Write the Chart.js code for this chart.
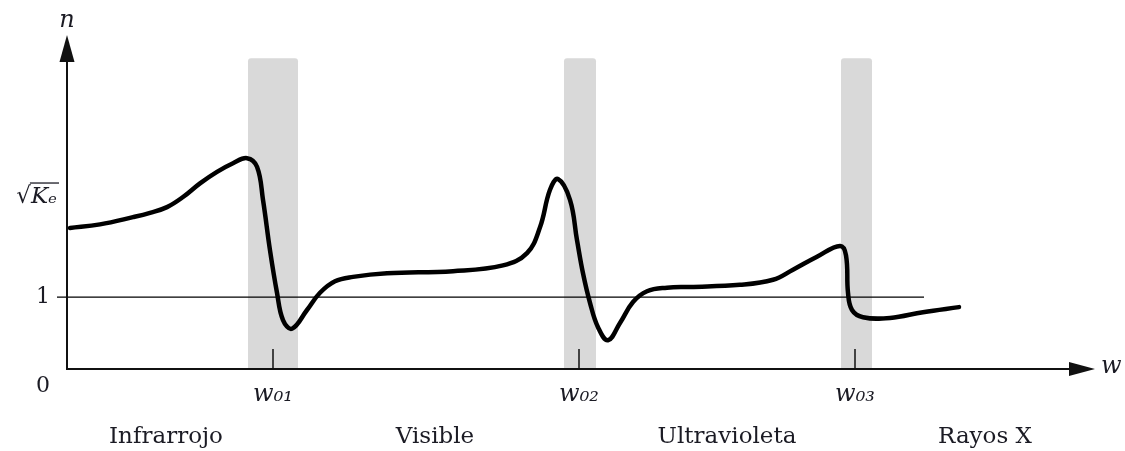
<!DOCTYPE html>
<html><head><meta charset="utf-8">
<script src="https://cdn.jsdelivr.net/npm/chart.js@4.4.1/dist/chart.umd.min.js"></script>
<style>html,body{margin:0;padding:0;background:#fff;}canvas{display:block}</style>
</head><body>
<canvas id="c" width="1125" height="451"></canvas>
<script>
// Dispersion curve: refractive index n versus frequency w (arbitrary units)
const curveX = [3, 33, 66, 83, 100, 116, 133, 150, 166, 180, 190, 196, 203, 210, 216, 225, 240, 253, 268, 286, 320, 386, 436, 460, 473, 483, 491, 503, 510, 516, 523, 531, 541, 553, 566, 580, 600, 623, 673, 706, 726, 750, 773, 779, 781, 785, 796, 823, 856, 892];
const curveN = [1.96, 2.01, 2.11, 2.17, 2.25, 2.39, 2.58, 2.74, 2.86, 2.93, 2.81, 2.35, 1.65, 1.06, 0.68, 0.56, 0.82, 1.06, 1.22, 1.28, 1.33, 1.36, 1.44, 1.61, 1.97, 2.49, 2.64, 2.35, 1.79, 1.33, 0.92, 0.58, 0.40, 0.64, 0.93, 1.08, 1.13, 1.14, 1.17, 1.24, 1.38, 1.56, 1.71, 1.58, 1.06, 0.82, 0.72, 0.71, 0.79, 0.86];
// n = 1 reference line
const refLineX = [-10, 857];
const refLineN = [1, 1];
// absorption bands
const bandStart = [181, 497, 774];
const bandEnd = [231, 529, 805];
const bandTop = 4.32;
// resonance frequencies
const resonanceX = [206, 512, 788];
const resonanceLabels = ['w₀₁', 'w₀₂', 'w₀₃'];
// n-axis ticks
const nTicks = [0, 1, 2.39];
const nTickLabels = [['', '0 '], '1 ', '√Kₑ'];
// spectral regions
const regionX = [99, 368, 660, 918];
const regionLabels = ['Infrarrojo', 'Visible', 'Ultravioleta', 'Rayos X'];

const INK = '#1b1b24';
const SERIF = "'DejaVu Serif', 'Liberation Serif', serif";

const diagram = {
  id: 'diagram',
  beforeDatasetsDraw(chart) {
    const {ctx, scales: {x, y}} = chart;
    ctx.save();
    ctx.fillStyle = '#d9d9d9';
    for (let i = 0; i < bandStart.length; i++) {
      const l = x.getPixelForValue(bandStart[i]);
      const r = x.getPixelForValue(bandEnd[i]);
      const t = y.getPixelForValue(bandTop);
      const b = y.getPixelForValue(0);
      ctx.beginPath();
      if (ctx.roundRect) ctx.roundRect(l, t, r - l, b - t, [3, 3, 0, 0]); else ctx.rect(l, t, r - l, b - t);
      ctx.fill();
    }
    ctx.restore();
  },
  afterDatasetsDraw(chart) {
    const {ctx, scales: {x, y}, chartArea} = chart;
    const x0 = x.getPixelForValue(0), y0 = y.getPixelForValue(0);
    ctx.save();
    ctx.strokeStyle = '#111';
    ctx.fillStyle = '#111';
    ctx.lineWidth = 2;
    // y axis
    ctx.beginPath(); ctx.moveTo(x0, y0 + 1); ctx.lineTo(x0, chartArea.top + 20); ctx.stroke();
    ctx.beginPath(); ctx.moveTo(x0, chartArea.top - 3); ctx.lineTo(x0 - 7.5, chartArea.top + 24); ctx.lineTo(x0 + 7.5, chartArea.top + 24); ctx.closePath(); ctx.fill();
    // x axis
    ctx.beginPath(); ctx.moveTo(x0 - 1, y0); ctx.lineTo(chartArea.right - 20, y0); ctx.stroke();
    ctx.beginPath(); ctx.moveTo(chartArea.right, y0); ctx.lineTo(chartArea.right - 26, y0 - 7); ctx.lineTo(chartArea.right - 26, y0 + 7); ctx.closePath(); ctx.fill();
    // resonance tick marks
    ctx.lineWidth = 1.5;
    resonanceX.forEach(v => {
      const px = x.getPixelForValue(v);
      ctx.beginPath(); ctx.moveTo(px, y0); ctx.lineTo(px, y0 - 20); ctx.stroke();
    });
    // axis names
    ctx.fillStyle = INK;
    ctx.font = 'italic 24px ' + SERIF;
    ctx.textAlign = 'center'; ctx.textBaseline = 'middle';
    ctx.fillText('n', x0, chartArea.top - 17);
    ctx.textAlign = 'left';
    ctx.fillText('w', chartArea.right + 6, y0 - 2);
    // overline of the square root label
    ctx.font = 'italic 23px ' + SERIF;
    const full = ctx.measureText('√Kₑ').width;
    const sq = ctx.measureText('√').width;
    const right = y.right - 10;
    const left = right - full;
    const ty = y.getPixelForValue(2.39);
    ctx.strokeStyle = INK; ctx.lineWidth = 1.3;
    ctx.beginPath(); ctx.moveTo(left + sq - 1, ty - 14); ctx.lineTo(right + 2, ty - 14); ctx.stroke();
    ctx.restore();
  }
};

new Chart(document.getElementById('c'), {
  type: 'line',
  data: {
    datasets: [
      {
        data: curveX.map((v, i) => ({x: v, y: curveN[i]})),
        borderColor: '#000', borderWidth: 4.5, pointRadius: 0,
        tension: 0.4, borderCapStyle: 'round', borderJoinStyle: 'round', fill: false
      },
      {
        data: refLineX.map((v, i) => ({x: v, y: refLineN[i]})),
        borderColor: '#000', borderWidth: 1.3, pointRadius: 0, clip: false, fill: false
      }
    ]
  },
  options: {
    responsive: false, animation: false,
    layout: {padding: {left: 0, right: 30, top: 38, bottom: 0}},
    plugins: {legend: {display: false}, tooltip: {enabled: false}, title: {display: false}},
    scales: {
      x: {
        type: 'linear', min: 0, max: 1028, position: 'bottom', weight: 0,
        grid: {display: false}, border: {display: false},
        afterFit: s => { s.height = 45; },
        afterBuildTicks: s => { s.ticks = resonanceX.map(v => ({value: v})); },
        ticks: {
          autoSkip: false, maxRotation: 0, padding: 3, color: INK,
          font: {family: SERIF, size: 24, style: 'italic'},
          callback: (v) => resonanceLabels[resonanceX.indexOf(v)]
        }
      },
      x2: {
        type: 'linear', min: 0, max: 1028, position: 'bottom', weight: 1, axis: 'x',
        grid: {display: false}, border: {display: false},
        afterFit: s => { s.height = 37; },
        afterBuildTicks: s => { s.ticks = regionX.map(v => ({value: v})); },
        ticks: {
          autoSkip: false, maxRotation: 0, padding: 1, color: INK,
          font: {family: SERIF, size: 23},
          callback: (v) => regionLabels[regionX.indexOf(v)]
        }
      },
      y: {
        type: 'linear', min: 0, max: 4.6,
        grid: {display: false, drawTicks: false}, border: {display: false},
        afterFit: s => { s.width = 67; },
        afterBuildTicks: s => { s.ticks = nTicks.map(v => ({value: v})); },
        ticks: {
          autoSkip: false, padding: 10, color: INK,
          font: (c) => ({family: SERIF, size: (c.tick && c.tick.value > 2) ? 23 : 22, lineHeight: 1.6, style: (c.tick && c.tick.value > 2) ? 'italic' : 'normal'}),
          callback: (v) => nTickLabels[nTicks.indexOf(v)]
        }
      }
    }
  },
  plugins: [diagram]
});
</script>
</body></html>
